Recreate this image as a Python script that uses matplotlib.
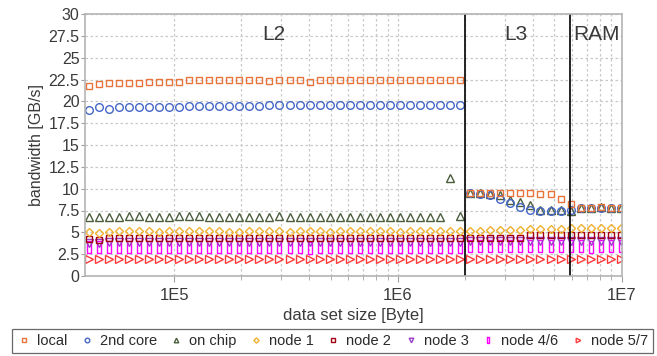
import matplotlib
matplotlib.use("Agg")
import matplotlib.pyplot as plt
from matplotlib.ticker import FixedLocator, NullFormatter, FuncFormatter

plt.rcParams['font.family'] = ['Liberation Sans', 'DejaVu Sans']

# data set sizes [Byte]
sizes = [41600, 46100, 51100, 56700, 62900, 69700, 77300, 85700, 95000, 105300,
         116800, 129500, 143600, 159200, 176500, 195700, 217000, 240600, 266800, 295800,
         328000, 363700, 403300, 447100, 495800, 549700, 609500, 675800, 749300, 830800,
         921200, 1021400, 1132500, 1255700, 1392300, 1543800, 1711800, 1898000,
         2104500, 2333500, 2587300, 2868800, 3180900, 3527000, 3910700, 4336200, 4807900, 5331000,
         5911000, 6554000, 7267000, 8058000, 8934000, 9906000]

local = [21.7, 22.0, 22.1, 22.1, 22.1, 22.1, 22.2, 22.2, 22.2, 22.2,
         22.4, 22.4, 22.4, 22.4, 22.4, 22.4, 22.4, 22.4, 22.3, 22.4,
         22.4, 22.4, 22.2, 22.4, 22.5, 22.5, 22.4, 22.5, 22.4, 22.4,
         22.5, 22.5, 22.5, 22.5, 22.4, 22.5, 22.5, 22.5,
         9.5, 9.5, 9.5, 9.5, 9.5, 9.5, 9.5, 9.4, 9.4, 8.8,
         8.2, 7.8, 7.8, 7.9, 7.8, 7.8]
core2 = [19.0, 19.3, 19.1, 19.3, 19.3, 19.4, 19.3, 19.4, 19.4, 19.4,
         19.5, 19.5, 19.5, 19.5, 19.5, 19.5, 19.5, 19.5, 19.6, 19.6,
         19.6, 19.6, 19.6, 19.6, 19.6, 19.6, 19.6, 19.6, 19.6, 19.6,
         19.6, 19.6, 19.6, 19.6, 19.6, 19.6, 19.6, 19.6,
         9.5, 9.4, 9.3, 8.8, 8.4, 7.9, 7.6, 7.4, 7.5, 7.5,
         7.6, 7.8, 7.8, 7.8, 7.8, 7.8]
onchip = [6.7, 6.8, 6.8, 6.7, 6.9, 6.9, 6.8, 6.8, 6.8, 6.9,
          6.9, 6.9, 6.8, 6.8, 6.8, 6.8, 6.7, 6.8, 6.8, 6.9,
          6.8, 6.8, 6.8, 6.8, 6.8, 6.8, 6.8, 6.8, 6.8, 6.8,
          6.8, 6.8, 6.8, 6.8, 6.8, 6.8, 11.2, 6.9,
          9.5, 9.5, 9.4, 9.3, 8.7, 8.5, 8.1, 7.6, 7.6, 7.6,
          7.5, 7.8, 7.8, 7.9, 7.8, 7.8]
node1 = [5.0, 4.9, 5.0, 5.1, 5.2, 5.1, 5.1, 5.0, 5.1, 5.1,
         5.1, 5.1, 5.1, 5.1, 5.0, 5.0, 5.1, 5.1, 5.1, 5.1,
         5.0, 5.1, 5.1, 5.1, 5.0, 5.1, 5.1, 5.1, 5.1, 5.1,
         5.1, 5.0, 5.1, 5.1, 5.1, 5.1, 5.1, 5.1,
         5.1, 5.2, 5.3, 5.3, 5.3, 5.3, 5.4, 5.4, 5.4, 5.4,
         5.5, 5.5, 5.5, 5.5, 5.5, 5.5]
node2 = [4.2, 4.1, 4.35, 4.35, 4.35, 4.35, 4.35, 4.35, 4.35, 4.35,
         4.35, 4.35, 4.35, 4.35, 4.35, 4.35, 4.35, 4.35, 4.35, 4.35,
         4.35, 4.35, 4.35, 4.35, 4.35, 4.35, 4.35, 4.35, 4.35, 4.35,
         4.35, 4.35, 4.35, 4.35, 4.35, 4.35, 4.35, 4.35,
         4.4, 4.4, 4.4, 4.4, 4.4, 4.4, 4.7, 4.7, 4.7, 4.7,
         4.7, 4.7, 4.7, 4.7, 4.7, 4.7]
node3 = [3.8, 3.8, 3.9, 3.9, 3.9, 3.9, 3.9, 3.9, 3.9, 3.9,
         3.9, 3.9, 3.9, 3.9, 3.9, 3.9, 3.9, 3.9, 3.9, 3.9,
         3.9, 3.9, 3.9, 3.9, 3.9, 3.9, 3.9, 3.9, 3.9, 3.9,
         3.9, 3.9, 3.9, 3.9, 3.9, 3.9, 3.9, 3.9,
         4.0, 4.0, 4.0, 4.0, 4.0, 4.0, 4.0, 4.0, 4.0, 4.0,
         4.0, 4.0, 4.0, 4.0, 4.0, 4.0]
node46 = [3.3, 3.3, 3.3, 3.35, 3.35, 3.35, 3.35, 3.35, 3.35, 3.35,
          3.35, 3.35, 3.35, 3.35, 3.35, 3.35, 3.35, 3.35, 3.35, 3.35,
          3.35, 3.35, 3.2, 3.35, 3.35, 3.35, 3.35, 3.35, 3.35, 3.35,
          3.35, 3.35, 3.35, 3.35, 3.35, 3.35, 3.35, 3.35,
          3.4, 3.4, 3.4, 3.4, 3.4, 3.4, 3.4, 3.4, 3.4, 3.4,
          3.4, 3.4, 3.3, 3.4, 3.4, 3.4]
node57 = [2.0] * 54

series_names = ['local', '2nd core', 'on chip', 'node 1', 'node 2', 'node 3', 'node 4/6', 'node 5/7']
series_vals = [local, core2, onchip, node1, node2, node3, node46, node57]

x_ticks = [1e5, 1e6, 1e7]
x_ticklabels = ['1E5', '1E6', '1E7']
y_ticks = [0, 2.5, 5, 7.5, 10, 12.5, 15, 17.5, 20, 22.5, 25, 27.5, 30]
boundaries = [2.0e6, 5.85e6]
regions = [('L2', 2.78e5), ('L3', 3.38e6), ('RAM', 7.73e6)]

colors = ['#E8743B', '#4466C8', '#4B5E3C', '#F0B030', '#A00010', '#9A3FC8', '#FF00FF', '#FF3A3A']
tallrect = [(-0.3, -1.0), (0.3, -1.0), (0.3, 1.0), (-0.3, 1.0), (-0.3, -1.0)]
markers = ['s', 'o', '^', 'D', 's', 'v', tallrect, '>']
msizes = [5, 5.5, 5.5, 4.5, 5, 5.5, 8, 5.5]

W, H = 657, 356
fig = plt.figure(figsize=(W / 100, H / 100), dpi=100)
ax = fig.add_axes([85 / W, 1 - 276 / H, (621.7 - 85) / W, (276 - 14) / H])

order = [7, 6, 5, 4, 3, 2, 1, 0]
handles = {}
for i in order:
    h, = ax.plot(sizes, series_vals[i], linestyle='none', marker=markers[i], markersize=msizes[i],
                 markerfacecolor='none', markeredgecolor=colors[i], markeredgewidth=1.0,
                 label=series_names[i])
    handles[i] = h

ax.set_xscale('log')
ax.set_xlim(4.0e4, 1e7)
ax.set_ylim(0, 30)

ax.xaxis.set_major_locator(FixedLocator(x_ticks))
ax.set_xticklabels(x_ticklabels)
minor = [m * 10 ** e for e in (5, 6) for m in range(2, 10)]
ax.xaxis.set_minor_locator(FixedLocator(minor))
ax.xaxis.set_minor_formatter(NullFormatter())
ax.yaxis.set_major_locator(FixedLocator(y_ticks))
ax.yaxis.set_major_formatter(FuncFormatter(lambda v, p: '%g' % v))

ax.grid(True, which='both', axis='x', color='#C8C8C8', linestyle=(0, (2, 2)), linewidth=0.9)
ax.grid(True, which='major', axis='y', color='#C8C8C8', linestyle=(0, (2, 2)), linewidth=0.9)
ax.set_axisbelow(True)

for sp in ax.spines.values():
    sp.set_color('#B4B4B4')
    sp.set_linewidth(1.2)

ax.tick_params(axis='both', which='both', direction='out', color='#A0A0A0')
ax.tick_params(axis='y', labelsize=11.5, labelcolor='#3a3a3a', length=3, pad=1)
ax.tick_params(axis='x', which='major', labelsize=12, labelcolor='#3a3a3a', length=4, pad=5)
ax.tick_params(axis='x', which='minor', length=3)

for b in boundaries:
    ax.axvline(b, color='black', linewidth=1.2)

for name, xp in regions:
    ax.text(xp, 28.75, name, ha='center', va='top', fontsize=15, color='#3a3a3a')

ax.set_xlabel('data set size [Byte]', fontsize=12, color='#3a3a3a', labelpad=3)
ax.set_ylabel('bandwidth [GB/s]', fontsize=11.5, color='#3a3a3a', labelpad=3)

leg = fig.legend([handles[i] for i in range(8)], series_names, loc='upper left',
                 bbox_to_anchor=(12 / W, 1 - 329 / H, 641 / W, 1e-4), mode='expand',
                 ncol=8, frameon=True, fancybox=False, fontsize=10.5, markerscale=0.6,
                 handlelength=0.9, handletextpad=0.45, columnspacing=0.9,
                 borderpad=0.35, borderaxespad=0)
leg.get_frame().set_edgecolor('#444444')
leg.get_frame().set_linewidth(0.9)
for t in leg.get_texts():
    t.set_color('#2a2a2a')

fig.savefig('out.png', dpi=100)
